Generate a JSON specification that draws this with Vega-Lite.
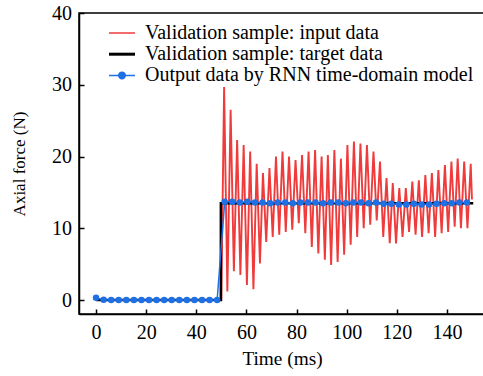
{
  "$schema": "https://vega.github.io/schema/vega-lite/v6.json",
  "width": 406,
  "height": 301,
  "autosize": {"type": "none"},
  "padding": {"left": 79, "top": 13, "right": 0, "bottom": 62},
  "background": "white",
  "config": {
    "font": "Liberation Serif",
    "view": {"stroke": "black", "strokeWidth": 1.5},
    "axis": {
      "grid": false,
      "domainColor": "black",
      "domainWidth": 1.5,
      "tickColor": "black",
      "tickWidth": 1.5,
      "tickSize": -5,
      "labelFont": "Liberation Serif",
      "labelFontSize": 20,
      "labelColor": "black",
      "titleFont": "Liberation Serif",
      "titleFontSize": 19.3,
      "titleFontWeight": "normal",
      "titleColor": "black"
    }
  },
  "datasets": {
    "red": [
      {"t": 0, "v": 0, "s": "Validation sample: input data"},
      {"t": 50, "v": 0, "s": "Validation sample: input data"},
      {"t": 51.1, "v": 29.7, "s": "Validation sample: input data"},
      {"t": 52.4, "v": 1.2, "s": "Validation sample: input data"},
      {"t": 53.7, "v": 26.5, "s": "Validation sample: input data"},
      {"t": 55.0, "v": 4.0, "s": "Validation sample: input data"},
      {"t": 56.3, "v": 22.3, "s": "Validation sample: input data"},
      {"t": 57.6, "v": 3.5, "s": "Validation sample: input data"},
      {"t": 58.9, "v": 21.6, "s": "Validation sample: input data"},
      {"t": 60.2, "v": 2.1, "s": "Validation sample: input data"},
      {"t": 61.5, "v": 20.7, "s": "Validation sample: input data"},
      {"t": 62.8, "v": 1.5, "s": "Validation sample: input data"},
      {"t": 64.1, "v": 19.0, "s": "Validation sample: input data"},
      {"t": 65.4, "v": 5.1, "s": "Validation sample: input data"},
      {"t": 66.6, "v": 17.7, "s": "Validation sample: input data"},
      {"t": 67.9, "v": 8.1, "s": "Validation sample: input data"},
      {"t": 69.2, "v": 18.4, "s": "Validation sample: input data"},
      {"t": 70.5, "v": 8.8, "s": "Validation sample: input data"},
      {"t": 71.8, "v": 20.0, "s": "Validation sample: input data"},
      {"t": 73.1, "v": 9.1, "s": "Validation sample: input data"},
      {"t": 74.4, "v": 20.7, "s": "Validation sample: input data"},
      {"t": 75.7, "v": 9.5, "s": "Validation sample: input data"},
      {"t": 77.0, "v": 20.0, "s": "Validation sample: input data"},
      {"t": 78.3, "v": 9.8, "s": "Validation sample: input data"},
      {"t": 79.6, "v": 19.5, "s": "Validation sample: input data"},
      {"t": 80.9, "v": 10.7, "s": "Validation sample: input data"},
      {"t": 82.2, "v": 20.2, "s": "Validation sample: input data"},
      {"t": 83.5, "v": 9.3, "s": "Validation sample: input data"},
      {"t": 84.8, "v": 20.7, "s": "Validation sample: input data"},
      {"t": 86.1, "v": 7.4, "s": "Validation sample: input data"},
      {"t": 87.4, "v": 20.9, "s": "Validation sample: input data"},
      {"t": 88.7, "v": 6.5, "s": "Validation sample: input data"},
      {"t": 90.0, "v": 20.0, "s": "Validation sample: input data"},
      {"t": 91.3, "v": 5.6, "s": "Validation sample: input data"},
      {"t": 92.5, "v": 20.2, "s": "Validation sample: input data"},
      {"t": 93.8, "v": 4.9, "s": "Validation sample: input data"},
      {"t": 95.1, "v": 20.9, "s": "Validation sample: input data"},
      {"t": 96.4, "v": 5.3, "s": "Validation sample: input data"},
      {"t": 97.7, "v": 19.7, "s": "Validation sample: input data"},
      {"t": 99.0, "v": 6.3, "s": "Validation sample: input data"},
      {"t": 100.3, "v": 21.6, "s": "Validation sample: input data"},
      {"t": 101.6, "v": 7.7, "s": "Validation sample: input data"},
      {"t": 102.9, "v": 22.1, "s": "Validation sample: input data"},
      {"t": 104.2, "v": 8.8, "s": "Validation sample: input data"},
      {"t": 105.5, "v": 21.8, "s": "Validation sample: input data"},
      {"t": 106.8, "v": 10.0, "s": "Validation sample: input data"},
      {"t": 108.1, "v": 21.6, "s": "Validation sample: input data"},
      {"t": 109.4, "v": 10.5, "s": "Validation sample: input data"},
      {"t": 110.7, "v": 20.7, "s": "Validation sample: input data"},
      {"t": 112.0, "v": 11.1, "s": "Validation sample: input data"},
      {"t": 113.3, "v": 19.3, "s": "Validation sample: input data"},
      {"t": 114.6, "v": 8.8, "s": "Validation sample: input data"},
      {"t": 115.9, "v": 17.0, "s": "Validation sample: input data"},
      {"t": 117.2, "v": 7.9, "s": "Validation sample: input data"},
      {"t": 118.4, "v": 16.3, "s": "Validation sample: input data"},
      {"t": 119.7, "v": 7.9, "s": "Validation sample: input data"},
      {"t": 121.0, "v": 15.6, "s": "Validation sample: input data"},
      {"t": 122.3, "v": 8.8, "s": "Validation sample: input data"},
      {"t": 123.6, "v": 15.6, "s": "Validation sample: input data"},
      {"t": 124.9, "v": 9.5, "s": "Validation sample: input data"},
      {"t": 126.2, "v": 16.5, "s": "Validation sample: input data"},
      {"t": 127.5, "v": 9.1, "s": "Validation sample: input data"},
      {"t": 128.8, "v": 16.7, "s": "Validation sample: input data"},
      {"t": 130.1, "v": 8.8, "s": "Validation sample: input data"},
      {"t": 131.4, "v": 17.4, "s": "Validation sample: input data"},
      {"t": 132.7, "v": 9.3, "s": "Validation sample: input data"},
      {"t": 134.0, "v": 17.7, "s": "Validation sample: input data"},
      {"t": 135.3, "v": 8.8, "s": "Validation sample: input data"},
      {"t": 136.6, "v": 18.1, "s": "Validation sample: input data"},
      {"t": 137.9, "v": 9.3, "s": "Validation sample: input data"},
      {"t": 139.2, "v": 18.8, "s": "Validation sample: input data"},
      {"t": 140.5, "v": 9.5, "s": "Validation sample: input data"},
      {"t": 141.8, "v": 19.3, "s": "Validation sample: input data"},
      {"t": 143.1, "v": 10.2, "s": "Validation sample: input data"},
      {"t": 144.3, "v": 19.7, "s": "Validation sample: input data"},
      {"t": 145.6, "v": 10.0, "s": "Validation sample: input data"},
      {"t": 146.9, "v": 19.3, "s": "Validation sample: input data"},
      {"t": 148.2, "v": 10.0, "s": "Validation sample: input data"},
      {"t": 149.5, "v": 19.0, "s": "Validation sample: input data"},
      {"t": 150.0, "v": 14.0, "s": "Validation sample: input data"}
    ],
    "black": [
      {"t": 0, "v": 0, "s": "Validation sample: target data"},
      {"t": 49.8, "v": 0, "s": "Validation sample: target data"},
      {"t": 49.8, "v": 13.5, "s": "Validation sample: target data"},
      {"t": 150.5, "v": 13.5, "s": "Validation sample: target data"}
    ],
    "blue": [
      {"t": 0, "v": 0.3, "s": "Output data by RNN time-domain model"},
      {"t": 3.02, "v": 0.05, "s": "Output data by RNN time-domain model"},
      {"t": 6.04, "v": 0.0, "s": "Output data by RNN time-domain model"},
      {"t": 9.06, "v": 0.0, "s": "Output data by RNN time-domain model"},
      {"t": 12.08, "v": 0.0, "s": "Output data by RNN time-domain model"},
      {"t": 15.1, "v": 0.0, "s": "Output data by RNN time-domain model"},
      {"t": 18.12, "v": 0.0, "s": "Output data by RNN time-domain model"},
      {"t": 21.14, "v": 0.0, "s": "Output data by RNN time-domain model"},
      {"t": 24.16, "v": 0.0, "s": "Output data by RNN time-domain model"},
      {"t": 27.18, "v": 0.0, "s": "Output data by RNN time-domain model"},
      {"t": 30.2, "v": 0.0, "s": "Output data by RNN time-domain model"},
      {"t": 33.22, "v": 0.0, "s": "Output data by RNN time-domain model"},
      {"t": 36.24, "v": 0.0, "s": "Output data by RNN time-domain model"},
      {"t": 39.26, "v": 0.0, "s": "Output data by RNN time-domain model"},
      {"t": 42.28, "v": 0.0, "s": "Output data by RNN time-domain model"},
      {"t": 45.3, "v": 0.0, "s": "Output data by RNN time-domain model"},
      {"t": 48.32, "v": 0.0, "s": "Output data by RNN time-domain model"},
      {"t": 51.34, "v": 13.7, "s": "Output data by RNN time-domain model"},
      {"t": 54.36, "v": 13.7, "s": "Output data by RNN time-domain model"},
      {"t": 57.38, "v": 13.6, "s": "Output data by RNN time-domain model"},
      {"t": 60.4, "v": 13.7, "s": "Output data by RNN time-domain model"},
      {"t": 63.42, "v": 13.6, "s": "Output data by RNN time-domain model"},
      {"t": 66.44, "v": 13.6, "s": "Output data by RNN time-domain model"},
      {"t": 69.46, "v": 13.5, "s": "Output data by RNN time-domain model"},
      {"t": 72.48, "v": 13.6, "s": "Output data by RNN time-domain model"},
      {"t": 75.5, "v": 13.6, "s": "Output data by RNN time-domain model"},
      {"t": 78.52, "v": 13.5, "s": "Output data by RNN time-domain model"},
      {"t": 81.54, "v": 13.6, "s": "Output data by RNN time-domain model"},
      {"t": 84.56, "v": 13.6, "s": "Output data by RNN time-domain model"},
      {"t": 87.58, "v": 13.6, "s": "Output data by RNN time-domain model"},
      {"t": 90.6, "v": 13.5, "s": "Output data by RNN time-domain model"},
      {"t": 93.62, "v": 13.6, "s": "Output data by RNN time-domain model"},
      {"t": 96.64, "v": 13.6, "s": "Output data by RNN time-domain model"},
      {"t": 99.66, "v": 13.5, "s": "Output data by RNN time-domain model"},
      {"t": 102.68, "v": 13.6, "s": "Output data by RNN time-domain model"},
      {"t": 105.7, "v": 13.6, "s": "Output data by RNN time-domain model"},
      {"t": 108.72, "v": 13.5, "s": "Output data by RNN time-domain model"},
      {"t": 111.74, "v": 13.6, "s": "Output data by RNN time-domain model"},
      {"t": 114.76, "v": 13.4, "s": "Output data by RNN time-domain model"},
      {"t": 117.78, "v": 13.4, "s": "Output data by RNN time-domain model"},
      {"t": 120.8, "v": 13.3, "s": "Output data by RNN time-domain model"},
      {"t": 123.82, "v": 13.3, "s": "Output data by RNN time-domain model"},
      {"t": 126.84, "v": 13.4, "s": "Output data by RNN time-domain model"},
      {"t": 129.86, "v": 13.3, "s": "Output data by RNN time-domain model"},
      {"t": 132.88, "v": 13.3, "s": "Output data by RNN time-domain model"},
      {"t": 135.9, "v": 13.4, "s": "Output data by RNN time-domain model"},
      {"t": 138.92, "v": 13.5, "s": "Output data by RNN time-domain model"},
      {"t": 141.94, "v": 13.5, "s": "Output data by RNN time-domain model"},
      {"t": 144.96, "v": 13.6, "s": "Output data by RNN time-domain model"},
      {"t": 147.98, "v": 13.6, "s": "Output data by RNN time-domain model"}
    ]
  },
  "encoding": {
    "x": {
      "field": "t",
      "type": "quantitative",
      "scale": {"domain": [-6.8, 155.2], "nice": false, "zero": false},
      "axis": {"values": [0, 20, 40, 60, 80, 100, 120, 140], "title": "Time (ms)", "labelPadding": 13, "titlePadding": 7.5}
    },
    "y": {
      "field": "v",
      "type": "quantitative",
      "scale": {"domain": [-1.95, 40], "nice": false, "zero": false},
      "axis": {"values": [0, 10, 20, 30, 40], "title": "Axial force (N)", "titleFontSize": 17, "labelPadding": 12.5, "titlePadding": 23}
    },
    "color": {
      "field": "s",
      "type": "nominal",
      "scale": {
        "domain": ["Validation sample: input data", "Validation sample: target data", "Output data by RNN time-domain model"],
        "range": ["#ef3b3b", "#000000", "#1f6fe5"]
      },
      "legend": {
        "title": null,
        "orient": "none",
        "legendX": 33,
        "legendY": 10,
        "labelFont": "Liberation Serif",
        "labelFontSize": 20,
        "labelColor": "black",
        "labelOffset": 13,
        "symbolSize": 676,
        "symbolType": "stroke",
        "rowPadding": 1.2,
        "labelLimit": 450,
        "encode": {
          "symbols": {
            "update": {
              "shape": {"signal": "datum.value === 'Output data by RNN time-domain model' ? 'M-1,0H1M-0.25,0A0.25,0.25,0,1,1,0.25,0A0.25,0.25,0,1,1,-0.25,0Z' : 'stroke'"},
              "fill": {"signal": "datum.value === 'Output data by RNN time-domain model' ? '#1f6fe5' : 'transparent'"},
              "strokeWidth": {"signal": "datum.value === 'Validation sample: target data' ? 3 : 1.5"}
            }
          }
        }
      }
    }
  },
  "layer": [
    {"data": {"name": "red"}, "mark": {"type": "line", "strokeWidth": 1.9, "clip": true}},
    {"data": {"name": "black"}, "mark": {"type": "line", "strokeWidth": 2.5, "clip": true}},
    {"data": {"name": "blue"}, "mark": {"type": "line", "strokeWidth": 1.5, "clip": true, "point": {"filled": true, "size": 42}}}
  ]
}
